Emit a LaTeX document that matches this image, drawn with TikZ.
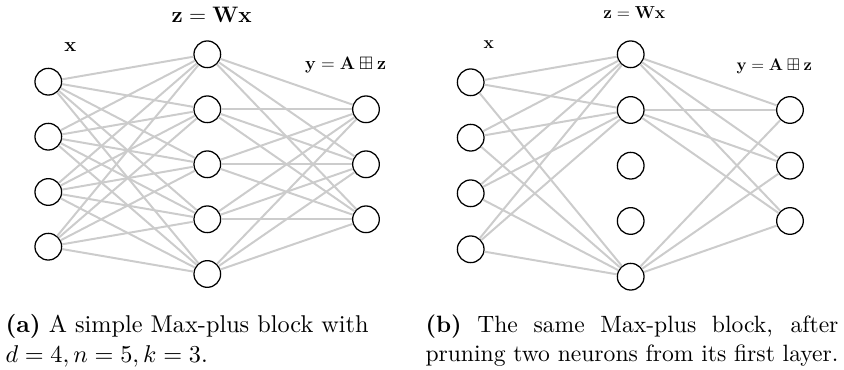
\RequirePackage{fix-cm}
\documentclass[tikz,border=0pt]{standalone}
\usepackage{amsmath,amssymb}

\definecolor{wiregray}{RGB}{204,204,204}

\tikzset{every picture/.style={line width=0.75pt}}
\tikzset{
  neuron/.style={draw=black, circle, line width=0.95pt, minimum size=20pt, inner sep=0pt},
  wire/.style={draw=wiregray, line width=1.5pt},
  caption/.style={anchor=base west, inner sep=0pt},
}

\begin{document}
\begin{tikzpicture}[x=0.75pt,y=0.75pt,yscale=-1,xscale=1]
\useasboundingbox (0,0) rectangle (844,370);

%% (a) full block

% Input layer
\node[neuron] (a-x1) at (48.3,81.7) {};
\node[neuron] (a-x2) at (48.3,136.7) {};
\node[neuron] (a-x3) at (48.3,192) {};
\node[neuron] (a-x4) at (48.3,246.7) {};
% Hidden layer
\node[neuron] (a-z1) at (207.3,54.3) {};
\node[neuron] (a-z2) at (207.3,109.3) {};
\node[neuron] (a-z3) at (207.3,164.3) {};
\node[neuron] (a-z4) at (207.3,219.3) {};
\node[neuron] (a-z5) at (207.3,274) {};
% Output layer
\node[neuron] (a-y1) at (366,109.3) {};
\node[neuron] (a-y2) at (366,164.3) {};
\node[neuron] (a-y3) at (366,219.3) {};

%Straight Lines
\foreach \i in {1,...,4}
  \foreach \j in {1,...,5}
    \draw[wire] (a-x\i) -- (a-z\j);
\foreach \j in {1,...,5}
  \foreach \k in {1,...,3}
    \draw[wire] (a-z\j) -- (a-y\k);

% Text Node
\node (a-xlab) at (70.3,47) {\fontsize{15}{18}\selectfont $\mathbf{x}$};
% Text Node
\node (a-zlab) at (211.7,15) {\fontsize{16.8}{20}\selectfont $\mathbf{z}=\mathbf{W}\mathbf{x}$};
% Text Node
\node (a-ylab) at (345.7,65) {\fontsize{13.5}{16}\selectfont $\mathbf{y}=\mathbf{A}\boxplus\mathbf{z}$};
% Caption
\node[caption] (a-cap) at (5,333) {\scalebox{1.82}{\parbox[t]{200pt}{\raggedright
  \textbf{(a)} A simple Max-plus block with\\$d=4,n=5,k=3$.}}};

%% (b) pruned block

% Input layer
\node[neuron] (b-x1) at (470.7,82.3) {};
\node[neuron] (b-x2) at (470.7,137.7) {};
\node[neuron] (b-x3) at (470.7,193.3) {};
\node[neuron] (b-x4) at (470.7,249.3) {};
% Hidden layer, z3 and z4 pruned
\node[neuron] (b-z1) at (630.7,54.3) {};
\node[neuron] (b-z2) at (630.7,110) {};
\node[neuron] (b-z3) at (630.7,165.7) {};
\node[neuron] (b-z4) at (630.7,221) {};
\node[neuron] (b-z5) at (630.7,276.7) {};
% Output layer
\node[neuron] (b-y1) at (790,110) {};
\node[neuron] (b-y2) at (790,165.7) {};
\node[neuron] (b-y3) at (790,221) {};

%Straight Lines
\foreach \i in {1,...,4}
  \foreach \j in {1,2,5}
    \draw[wire] (b-x\i) -- (b-z\j);
\foreach \j in {1,2,5}
  \foreach \k in {1,...,3}
    \draw[wire] (b-z\j) -- (b-y\k);

% Text Node
\node (b-xlab) at (488.7,45) {\fontsize{13}{16}\selectfont $\mathbf{x}$};
% Text Node
\node (b-zlab) at (634.3,12.3) {\fontsize{13}{16}\selectfont $\mathbf{z}=\mathbf{W}\mathbf{x}$};
% Text Node
\node (b-ylab) at (774.3,66.7) {\fontsize{12.6}{15}\selectfont $\mathbf{y}=\mathbf{A}\boxplus\mathbf{z}$};
% Caption
\node[caption] (b-cap) at (425,333) {\scalebox{1.77}{\parbox[t]{175pt}{%
  \makebox[\linewidth][s]{\textbf{(b)} The same Max-plus block, after}\\pruning two neurons from its first layer.}}};

\end{tikzpicture}
\end{document}
